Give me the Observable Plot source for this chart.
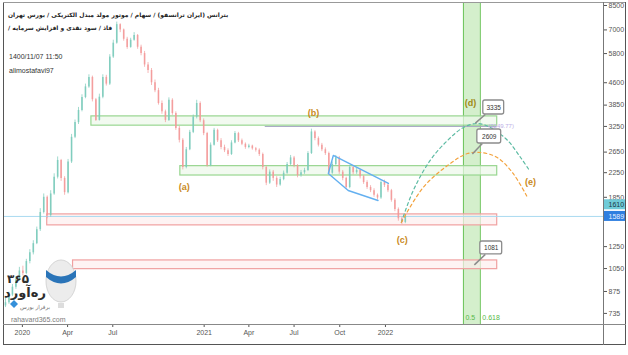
<!DOCTYPE html>
<html><head><meta charset="utf-8">
<script src="https://cdn.jsdelivr.net/npm/d3@7"></script>
<script src="https://cdn.jsdelivr.net/npm/@observablehq/plot@0.6"></script>
<style>
body{margin:0;background:#fff;}
#wrap{position:relative;width:628px;height:355px;overflow:hidden;font-family:"Liberation Sans",Arial,sans-serif;}
.ln{position:absolute;background:#666;pointer-events:none;}
.hdr{position:absolute;left:8px;font-size:6px;color:#222;white-space:nowrap;font-family:"DejaVu Sans",sans-serif;}
.hdl{position:absolute;left:9px;font-size:7px;color:#333;white-space:nowrap;font-family:"Liberation Sans",Arial,sans-serif;}
</style></head><body>
<div id="wrap">
<div id="chart"></div>
<div class="ln" style="left:3px;top:2px;width:1px;height:343px;background:#555"></div>
<div class="ln" style="left:3px;top:2px;width:623px;height:1px;background:#999"></div>
<div class="ln" style="left:3px;top:344px;width:623px;height:1px;background:#555"></div>
<div class="ln" style="left:625px;top:2px;width:1px;height:343px;background:#555"></div>
<div class="ln" style="left:603px;top:2px;width:1px;height:343px;background:#777"></div>
<div class="ln" style="left:3px;top:324px;width:623px;height:1px;background:#888"></div>
<div class="hdr" dir="rtl" style="top:11px;font-weight:bold">بترانس (ایران ترانسفو) / سهام / موتور مولد مبدل الکتریکی / بورس تهران</div>
<div class="hdr" dir="rtl" style="top:24px;font-weight:bold">فاذ / سود نقدی و افزایش سرمایه /</div>
<div class="hdl" style="top:53px">1400/11/07 11:50</div>
<div class="hdl" style="top:67px">alimostafavi97</div>
</div>
<script>
// ---- weekly candles (first bar date, closes, highs, lows) ----
const firstWeek = "2019-11-28";
const firstOpen = 780;
const closes = [800,850,905,960,1030,1010,1110,1190,1280,1430,
1640,1850,1600,1900,2170,2480,2150,1920,2450,2980,
3350,3690,4090,4450,4800,4020,3410,4100,4800,4550,
5640,6300,7300,7000,6500,6090,6450,6700,6100,5800,
5300,5070,4600,4320,3900,3650,3410,4000,3600,3200,
2910,2345,2700,3100,3500,3900,3400,3070,2380,2800,
3150,2900,2750,2680,2600,2850,3070,2900,2820,2750,
2780,2720,2690,2600,2345,2070,2260,2150,2040,2130,
2240,2400,2530,2380,2200,2250,2290,2620,3110,2950,
2800,2700,2620,2240,2400,2530,2260,2150,2000,2345,
2250,2290,2180,2080,2000,1950,1880,1840,2080,2035,
1950,1806,1680,1560,1515,1589];
const highs = [830,870,925,985,1060,1070,1130,1220,1310,1460,
1690,1900,1870,1950,2230,2550,2500,2180,2500,3050,
3420,3780,4180,4550,4900,4850,4060,4200,4900,4880,
5750,6450,7450,7350,7050,6600,6550,6850,6750,6200,
5900,5400,5150,4700,4400,3980,3700,4080,4050,3650,
3250,2950,2750,3150,3560,4000,3950,3450,3100,2850,
3200,3180,2950,2800,2720,2900,3120,3100,2940,2850,
2820,2800,2750,2720,2630,2370,2300,2290,2180,2170,
2280,2440,2580,2560,2400,2290,2330,2660,3180,3140,
2990,2840,2740,2650,2450,2580,2560,2290,2170,2380,
2370,2330,2310,2200,2110,2030,1980,1900,2110,2120,
2060,1970,1830,1700,1580,1610];
const lows = [770,790,840,890,950,990,1000,1090,1170,1270,
1410,1620,1560,1580,1880,2140,2100,1880,1900,2420,
2950,3300,3650,4050,4400,3950,3380,3390,4050,4480,
4500,5580,6250,6850,6400,6000,6050,6400,6000,5700,
5200,4950,4500,4250,3850,3580,3350,3380,3550,3150,
2850,2300,2320,2680,3070,3450,3350,3020,2350,2360,
2780,2860,2700,2640,2560,2580,2830,2860,2790,2710,
2720,2690,2650,2560,2300,2030,2050,2100,2000,2020,
2110,2220,2380,2340,2160,2170,2220,2270,2600,2900,
2760,2660,2580,2200,2220,2380,2220,2110,1970,1980,
2210,2220,2140,2050,1970,1920,1850,1810,1820,2000,
1920,1780,1650,1530,1490,1500];

// ---- axes ----
const yTicks = [8500,7000,5800,4600,3850,3250,2650,2250,1850,1250,1050,875,735];
const xTickDates = ["2020-01-01","2020-04-01","2020-07-01","2021-01-01","2021-04-01","2021-07-01","2021-10-01","2022-01-01"];
const xTickLabels = ["2020","Apr","Jul","2021","Apr","Jul","Oct","2022"];
const xDomain = ["2019-11-26","2023-03-16"];
const yDomain = [673, 8636];

// ---- zones (boxes) ----
const boxStart = ["2020-05-19","2020-11-14","2020-02-20","2020-04-12"];
const boxEnd   = ["2022-08-14","2022-08-14","2022-08-14","2022-08-14"];
const boxLow   = [3270, 2200, 1480, 1045];
const boxHigh  = [3520, 2370, 1615, 1120];
const boxKind  = ["green","green","red","red"];

// horizontal line
const hLineValue = 3249.77;
const hLineStart = "2021-05-04";
const hLineEnd = "2022-08-14";

// last price labels
const lastPrice = 1589;
const prevPrice = 1610;

// fib time band
const bandDates = ["2022-06-07","2022-07-11"];
const bandLabels = ["0.5","0.618"];

// projected paths
const tealDates  = ["2022-02-02","2022-02-26","2022-04-01","2022-05-06","2022-06-07","2022-07-05","2022-07-31","2022-09-04","2022-09-30","2022-10-18"];
const tealPrices = [1515,1953,2480,2907,3223,3327,3223,2907,2539,2290];
const orangeDates  = ["2022-02-02","2022-03-18","2022-05-06","2022-06-15","2022-07-11","2022-08-14","2022-09-15","2022-10-14"];
const orangePrices = [1515,2001,2383,2620,2642,2539,2236,1848];

// channel
const channelDates  = ["2022-01-07","2021-09-18","2021-09-08","2021-10-18","2021-12-17"];
const channelPrices = [2065,2580,2236,1953,1804];

// wave labels
const waveLabels = ["(a)","(b)","(c)","(d)","(e)"];
const waveDates  = ["2020-11-22","2021-08-09","2022-02-04","2022-06-21","2022-10-20"];
const wavePrices = [2001,3602,1312,3901,2081];

// callouts
const calloutValues = [3335,2609,1081];
const calloutPointDates = ["2022-07-01","2022-06-25","2022-06-29"];
const calloutBoxX1 = ["2022-07-17","2022-07-05","2022-07-11"];
const calloutBoxX2 = ["2022-08-28","2022-08-22","2022-08-24"];
const calloutBoxTop = [3994,3172,1302];
const calloutBoxBottom = [3574,2838,1175];
const calloutTailDates = ["2022-07-21","2022-07-15","2022-07-21"];

// ---- build tables ----
const D = s => new Date(s);
const candles = closes.map((c, i) => ({
  date: d3.utcDay.offset(D(firstWeek), 7 * i),
  open: i === 0 ? firstOpen : closes[i - 1],
  high: highs[i], low: lows[i], close: c
}));
candles.forEach(d => d.col = d.close >= d.open ? "#7ccbbb" : "#f39a9a");
const boxes = boxStart.map((s, i) => ({x1: D(s), x2: D(boxEnd[i]), lo: boxLow[i], hi: boxHigh[i], kind: boxKind[i]}));
const teal = tealDates.map((d, i) => ({x: D(d), y: tealPrices[i]}));
const orange = orangeDates.map((d, i) => ({x: D(d), y: orangePrices[i]}));
const channel = channelDates.map((d, i) => ({x: D(d), y: channelPrices[i]}));
const waves = waveLabels.map((t, i) => ({t, x: D(waveDates[i]), y: wavePrices[i], c: t === "(d)" ? "#a08a14" : "#c98a1c"}));
const callouts = calloutValues.map((v, i) => ({
  v, px: D(calloutPointDates[i]), x1: D(calloutBoxX1[i]), x2: D(calloutBoxX2[i]),
  top: calloutBoxTop[i], bot: calloutBoxBottom[i], tx: D(calloutTailDates[i]),
  mx: new Date((+D(calloutBoxX1[i]) + +D(calloutBoxX2[i])) / 2),
  my: Math.sqrt(calloutBoxTop[i] * calloutBoxBottom[i])
}));
const tickMap = new Map(xTickDates.map((d, i) => [+D(d), xTickLabels[i]]));

const chart = Plot.plot({
  width: 628, height: 355,
  marginLeft: 4, marginRight: 25, marginTop: 3, marginBottom: 31,
  style: {fontFamily: "'Liberation Sans', Arial, sans-serif", fontSize: "7px", color: "#555", background: "white"},
  color: {type: "identity"},
  x: {type: "utc", domain: xDomain.map(D), ticks: xTickDates.map(D), tickFormat: d => tickMap.get(+d), tickSize: 3, tickPadding: 3, label: null},
  y: {type: "log", domain: yDomain, axis: "right", ticks: yTicks, tickFormat: d => String(d), tickSize: 3, tickPadding: 2, label: null},
  marks: [
    // fib time band
    Plot.rect([0], {x1: () => D(bandDates[0]), x2: () => D(bandDates[1]), fill: "#8fd47a", fillOpacity: 0.38}),
    Plot.ruleX(bandDates.map(D), {stroke: "#6cc35a", strokeWidth: 1}),
    // zones
    Plot.rect(boxes, {x1: "x1", x2: "x2", y1: "lo", y2: "hi",
      fill: d => d.kind === "green" ? "#edf8ea" : "#fdeeee", fillOpacity: 0.7,
      stroke: d => d.kind === "green" ? "#98d690" : "#f0a0a0", strokeWidth: 1.2}),
    Plot.ruleY([hLineValue], {x1: D(hLineStart), x2: D(hLineEnd), stroke: "#a6a6c4", strokeWidth: 1}),
    Plot.text([hLineValue], {x: D("2022-07-27"), y: d => d, text: () => "(3249.77)", textAnchor: "start", fill: "#bcaee6", fontSize: 6}),
    // last price line
    Plot.ruleY([lastPrice], {stroke: "#a9daf0", strokeWidth: 1}),
    // candles
    Plot.ruleX(candles, {x: "date", y1: "low", y2: "high", stroke: "col", strokeWidth: 0.8, strokeOpacity: 0.9}),
    Plot.ruleX(candles, {x: "date", y1: "open", y2: "close", stroke: "col", strokeWidth: 1.6, strokeOpacity: 0.9}),
    // channel
    Plot.line(channel, {x: "x", y: "y", stroke: "#64b0f0", strokeWidth: 1.4}),
    // projections
    Plot.line(teal, {x: "x", y: "y", curve: "catmull-rom", stroke: "#5dbba3", strokeWidth: 1.2, strokeDasharray: "3,3"}),
    Plot.line(orange, {x: "x", y: "y", curve: "catmull-rom", stroke: "#f3a33e", strokeWidth: 1.2, strokeDasharray: "3,3"}),
    // wave labels
    Plot.text(waves, {x: "x", y: "y", text: "t", fill: "c", fontSize: 9, fontWeight: "bold"}),
    // callouts
    Plot.link(callouts, {x1: "tx", y1: "bot", x2: "px", y2: "v", stroke: "#8c8c8c", strokeWidth: 1.5}),
    Plot.rect(callouts, {x1: "x1", x2: "x2", y1: "bot", y2: "top", fill: "white", stroke: "#8c8c8c", strokeWidth: 1.3, rx: 2}),
    Plot.text(callouts, {x: "mx", y: "my", text: d => String(d.v), fill: "#333", fontSize: 6.5}),
    // band labels
    Plot.text([0, 1], {x: i => D(bandDates[i]), text: i => bandLabels[i], frameAnchor: "bottom", dy: -5, dx: 2, textAnchor: "start", fill: "#58b848", fontSize: 7}),
    // price labels
    Plot.rect([prevPrice], {x1: () => D(xDomain[1]), x2: () => D(xDomain[1]), y1: d => d, y2: d => d, insetLeft: 1, insetRight: -22, insetTop: -5, insetBottom: -5, dy: -10, fill: "#6fcbd8"}),
    Plot.text([prevPrice], {y: d => d, text: d => String(d), frameAnchor: "right", dx: 5, dy: -10, textAnchor: "start", fill: "#1b3a44", fontSize: 7}),
    Plot.rect([lastPrice], {x1: () => D(xDomain[1]), x2: () => D(xDomain[1]), y1: d => d, y2: d => d, insetLeft: 1, insetRight: -22, insetTop: -5, insetBottom: -5, fill: "#2f7fe0"}),
    Plot.text([lastPrice], {y: d => d, text: d => String(d), frameAnchor: "right", dx: 5, textAnchor: "start", fill: "#e8f1ff", fontSize: 7})
  ]
});
document.getElementById("chart").appendChild(chart);

// watermark logo (decoration)
const svg = d3.select(chart);
const g = svg.append("g").attr("opacity", 0.95);
g.append("ellipse").attr("cx", 61).attr("cy", 281).attr("rx", 15).attr("ry", 21).attr("fill", "#ebebeb").attr("stroke", "#d4d4d4");
g.append("path").attr("d", "M46,270 Q61,283 76,270 L76,277 Q61,290 46,277 Z").attr("fill", "#1f6db5");
g.append("rect").attr("x", 58).attr("y", 303).attr("width", 6).attr("height", 5).attr("fill", "#dcdcdc");
g.append("text").attr("x", 18).attr("y", 283).attr("text-anchor", "middle").attr("font-size", 12).attr("font-weight", "bold").attr("fill", "#222").attr("font-family", "DejaVu Sans").text("۳۶۵");
g.append("text").attr("x", 25).attr("y", 297).attr("text-anchor", "middle").attr("font-size", 13).attr("font-weight", "bold").attr("fill", "#222").attr("font-family", "DejaVu Sans").text("رەآورد");
g.append("path").attr("d", "M14,300 L18,304 L14,308 L10,304 Z").attr("fill", "#2a8ad8");
g.append("text").attr("x", 35).attr("y", 309).attr("text-anchor", "middle").attr("font-size", 5.5).attr("fill", "#666").attr("font-family", "DejaVu Sans").text("برفراز بورس");
g.append("text").attr("x", 11).attr("y", 322).attr("text-anchor", "start").attr("font-size", 7).attr("fill", "#777").attr("font-family", "Liberation Sans").text("rahavard365.com");
</script>
</body></html>
